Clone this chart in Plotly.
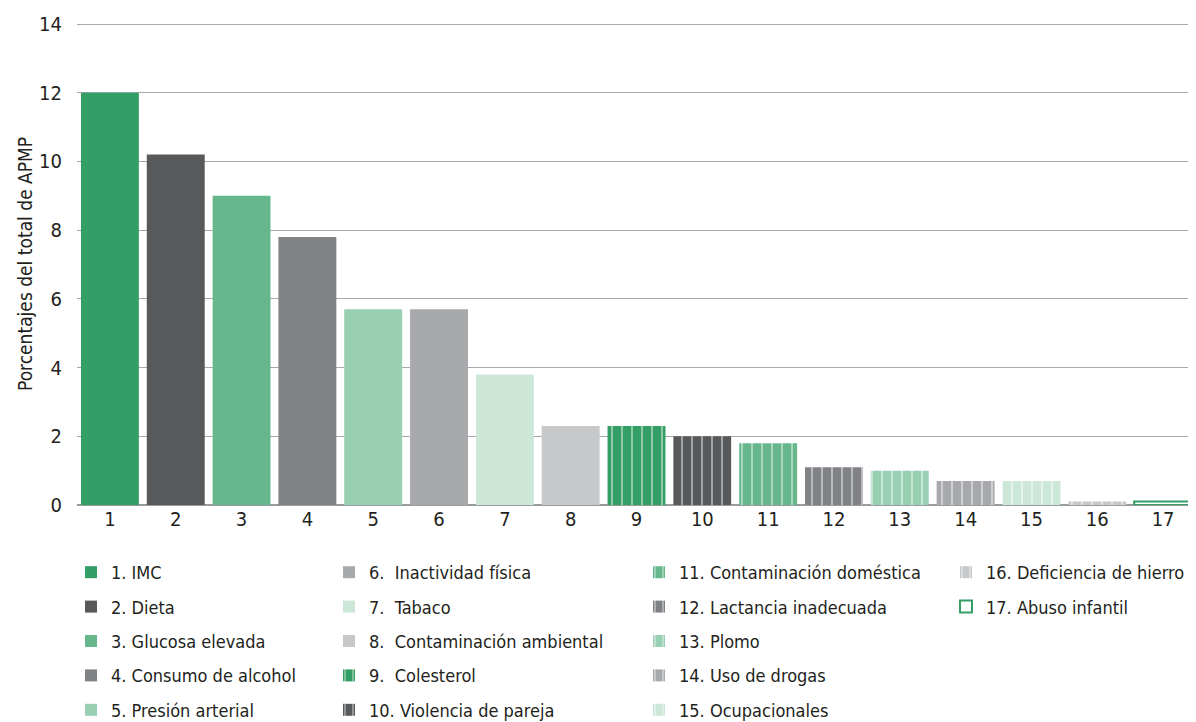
import plotly.graph_objects as go

categories = [str(i) for i in range(1, 18)]
labels = ["1. IMC", "2. Dieta", "3. Glucosa elevada", "4. Consumo de alcohol", "5. Presión arterial",
          "6.  Inactividad física", "7.  Tabaco", "8.  Contaminación ambiental", "9.  Colesterol",
          "10. Violencia de pareja", "11. Contaminación doméstica", "12. Lactancia inadecuada",
          "13. Plomo", "14. Uso de drogas", "15. Ocupacionales", "16. Deficiencia de hierro",
          "17. Abuso infantil"]
values = [12.0, 10.2, 9.0, 7.8, 5.7, 5.7, 3.8, 2.3, 2.3, 2.0, 1.8, 1.1, 1.0, 0.7, 0.7, 0.1, 0.1]
colors = ["#339e65", "#58595b", "#66b78b", "#808285", "#99cfb2", "#a7a9ac", "#cce7d8", "#c7c8ca",
          "#339e65", "#58595b", "#66b78b", "#808285", "#99cfb2", "#a7a9ac", "#cce7d8", "#c7c8ca",
          "#339e65"]

FONT = "DejaVu Sans Condensed, Liberation Sans Narrow, sans-serif"
W, H = 1188, 714  # page body has an 8px margin
fig = go.Figure()
legend_ids = ["legend", "legend2", "legend3", "legend4"]
for i, (c, lab, v, col) in enumerate(zip(categories, labels, values, colors)):
    marker = dict(color=col, line=dict(width=0))
    if 8 <= i <= 15:
        marker["pattern"] = dict(shape="|", fgcolor="white", bgcolor=col, size=10, solidity=0.18,
                                 fillmode="overlay")
    if i == 16:
        marker = dict(color="white", line=dict(color=col, width=2))
    fig.add_trace(go.Bar(x=[c], y=[v], name=lab, marker=marker, legendgroup=f"g{i}",
                         legend=legend_ids[i // 5], hoverinfo="skip"))

legend_x = [63, 321, 631, 938]
layouts = {}
for k, lid in enumerate(legend_ids):
    layouts[lid] = dict(xref="container", yref="container", x=legend_x[k] / W, y=1 - 546 / H,
                        xanchor="left", yanchor="top", orientation="v", bgcolor="rgba(0,0,0,0)",
                        font=dict(family=FONT, size=18, color="#231f20"), itemwidth=30,
                        traceorder="grouped", tracegroupgap=8)

fig.update_layout(
    width=W, height=H,
    margin=dict(l=69, r=0, t=15, b=217, autoexpand=False),
    plot_bgcolor="white", paper_bgcolor="white",
    barmode="overlay", bargap=0.12,
    font=dict(family=FONT, size=19, color="#231f20"),
    xaxis=dict(type="category", showgrid=False, ticks="", showline=False,
               tickfont=dict(size=20)),
    yaxis=dict(range=[0, 14.03], tickvals=[0, 2, 4, 6, 8, 10, 12, 14], showgrid=True,
               gridcolor="#a7a9ac", gridwidth=1,
               zeroline=True, zerolinecolor="#9a9b9d", zerolinewidth=2, ticks="",
               tickfont=dict(size=20), ticklabelstandoff=14),
    annotations=[dict(text="Porcentajes del total de APMP", textangle=-90, xref="paper", yref="paper",
                      x=-(69 - 17) / 1119, y=0.5, xanchor="center", yanchor="middle",
                      showarrow=False, font=dict(size=19))],
    showlegend=True,
    **layouts,
)
fig.write_html("out.html")
